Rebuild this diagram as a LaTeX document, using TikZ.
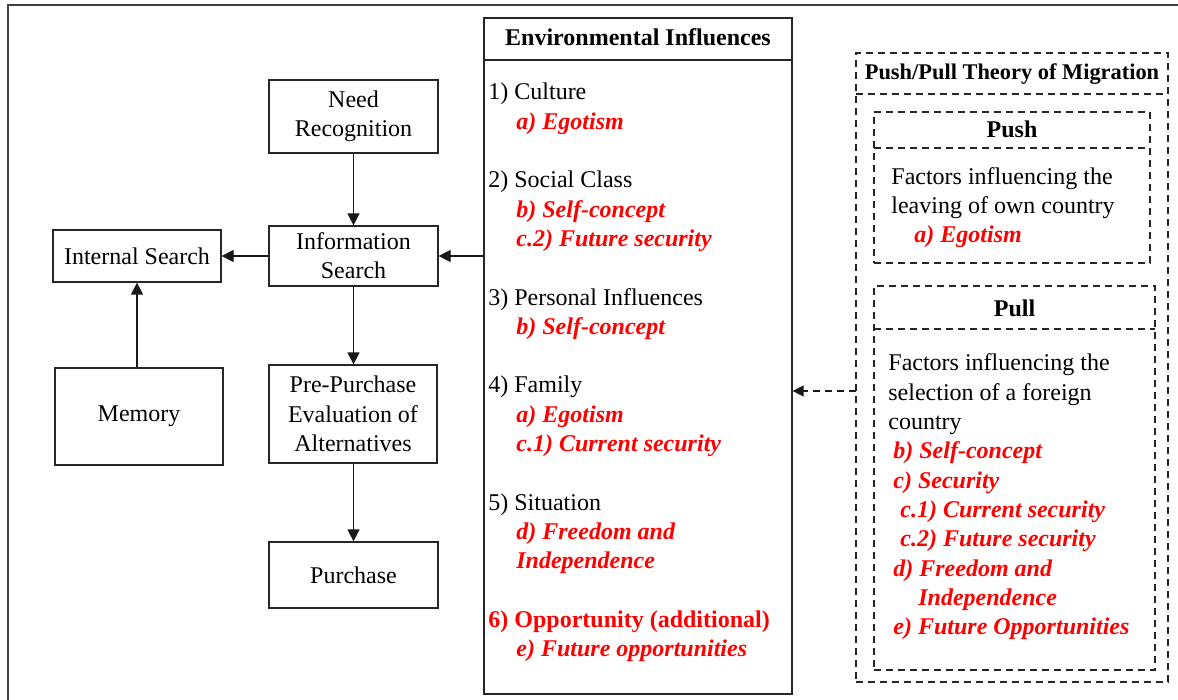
\documentclass[tikz,border=0pt]{standalone}
\usepackage{fontspec}
\setmainfont{Liberation Serif}
\usetikzlibrary{arrows.meta}
\begin{document}
\begin{tikzpicture}[x=0.5pt,y=-0.5pt,
  every node/.style={font=\fontsize{12}{14.65}\selectfont},
  box/.style={draw=black!85, line width=0.6pt, inner sep=0pt, align=center},
  dbox/.style={draw=black!85, line width=0.6pt, inner sep=0pt, dash pattern=on 3.5pt off 2.5pt},
  hline/.style={draw=black!85, line width=0.6pt},
  dline/.style={draw=black!85, line width=0.6pt, dash pattern=on 3.5pt off 2.5pt},
  arr/.style={draw=black!90, line width=0.6pt, -{Triangle[length=6pt,width=6pt]}},
  darr/.style={draw=black!90, line width=0.6pt, dash pattern=on 3.5pt off 2.5pt, -{Triangle[length=5.5pt,width=5.5pt]}},
  lt/.style={anchor=base west, inner sep=0pt},
  rt/.style={anchor=base west, inner sep=0pt, text=red, font=\fontsize{12}{14.65}\selectfont\bfseries\itshape},
  hd/.style={anchor=base, inner sep=0pt, font=\fontsize{12}{14.65}\selectfont\bfseries}]
\useasboundingbox (0,0) rectangle (1178,700);

% page frame (left and top edges)
\draw[line width=1pt, black!75] (8,700) -- (8,5) -- (1178,5);

% decision process
\node[box, minimum width=84.5pt, minimum height=36.5pt] (need) at (353.5,116.5) {Need\\Recognition};
\node[box, minimum width=84.5pt, minimum height=30pt] (info) at (353.5,256) {Information\\Search};
\node[box, minimum width=84pt, minimum height=26pt] (internal) at (137,256) {Internal Search};
\node[box, minimum width=84pt, minimum height=48.5pt] (memory) at (139,416.5) {Memory};
\node[box, minimum width=84pt, minimum height=49pt] (eval) at (353,414) {Pre-Purchase\\Evaluation of\\Alternatives};
\node[box, minimum width=84.5pt, minimum height=33pt] (purchase) at (353.5,575) {Purchase};

\draw[arr] (need.south) -- (info.north);
\draw[arr] (info.west) -- (internal.east);
\draw[arr] (memory.north -| internal.south) -- (internal.south);
\draw[arr] (info.south) -- (eval.north -| info.south);
\draw[arr] (eval.south -| purchase.north) -- (purchase.north);

% environmental influences panel
\node[box, minimum width=154pt, minimum height=338pt] (env) at (638,356) {};
\draw[hline] (484,60) -- (792,60);
\node[hd] (envtitle) at (638,46) {Environmental Influences};

\node[lt] (e1) at (488,100.0) {1) Culture};
\node[rt] (e1a) at (516,129.3) {a) Egotism};
\node[lt] (e2) at (488,187.9) {2) Social Class};
\node[rt] (e2b) at (516,217.2) {b) Self-concept};
\node[rt] (e2c) at (516,246.5) {c.2) Future security};
\node[lt] (e3) at (488,305.1) {3) Personal Influences};
\node[rt] (e3b) at (516,334.4) {b) Self-concept};
\node[lt] (e4) at (488,393.0) {4) Family};
\node[rt] (e4a) at (516,422.3) {a) Egotism};
\node[rt] (e4c) at (516,451.6) {c.1) Current security};
\node[lt] (e5) at (488,510.2) {5) Situation};
\node[rt] (e5d) at (516,539.5) {d) Freedom and};
\node[rt] (e5i) at (516,568.8) {Independence};
\node[lt, text=red, font=\fontsize{12}{14.65}\selectfont\bfseries] (e6) at (488,627.4) {6) Opportunity (additional)};
\node[rt] (e6e) at (516,656.7) {e) Future opportunities};

\draw[arr] (env.west |- info.east) -- (info.east);

% push/pull theory panel
\node[dbox, minimum width=156pt, minimum height=314.5pt] (pp) at (1012,367.5) {};
\draw[dline] (856,94) -- (1168,94);
\node[hd, font=\fontsize{11.2}{14}\selectfont\bfseries] (pptitle) at (1012,80) {Push/Pull Theory of Migration};

\node[dbox, minimum width=138pt, minimum height=75.5pt] (push) at (1012,187.5) {};
\draw[dline] (874,148) -- (1150,148);
\node[hd] (pushtitle) at (1012,137.3) {Push};
\node[lt] (pu1) at (891,184.3) {Factors influencing the};
\node[lt] (pu2) at (891,213.6) {leaving of own country};
\node[rt] (pu3) at (914,242.9) {a) Egotism};

\node[dbox, minimum width=140.5pt, minimum height=192pt] (pull) at (1014.5,478) {};
\draw[dline] (874,329) -- (1155,329);
\node[hd] (pulltitle) at (1014.5,316.7) {Pull};
\node[lt] (pl1) at (888,371.0) {Factors influencing the};
\node[lt] (pl2) at (888,400.3) {selection of a foreign};
\node[lt] (pl3) at (888,429.6) {country};
\node[rt] (pl4) at (893,458.9) {b) Self-concept};
\node[rt] (pl5) at (893,488.2) {c) Security};
\node[rt] (pl6) at (900,517.5) {c.1) Current security};
\node[rt] (pl7) at (900,546.8) {c.2) Future security};
\node[rt] (pl8) at (893,576.1) {d) Freedom and};
\node[rt] (pl9) at (918,605.4) {Independence};
\node[rt] (pl10) at (893,634.7) {e) Future Opportunities};

\coordinate (ppin) at (856,391);
\draw[darr] (ppin) -- (env.east |- ppin);
\end{tikzpicture}
\end{document}
